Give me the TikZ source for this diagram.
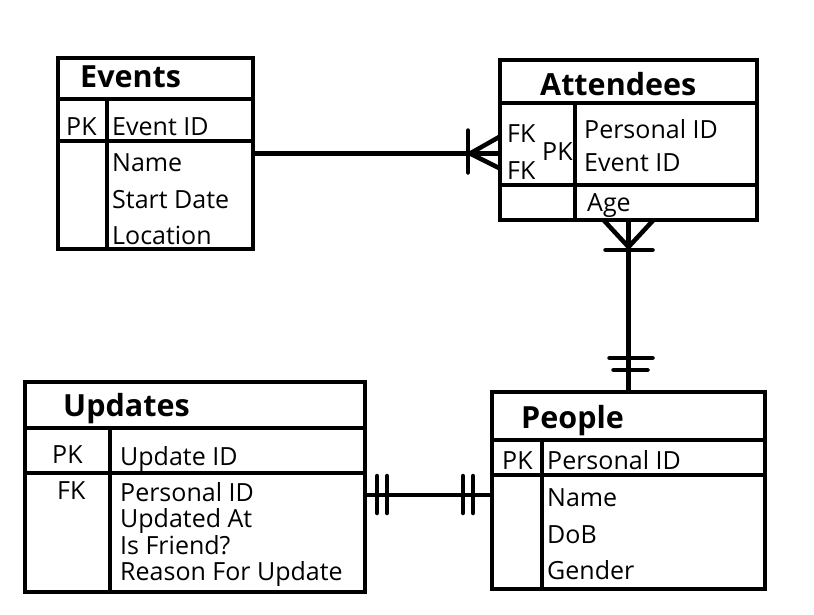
\documentclass[tikz,border=0pt]{standalone}
\usepackage{fontspec}
\setmainfont{Open Sans}
\usetikzlibrary{calc}
\begin{document}
\begin{tikzpicture}[x=1pt,y=-1pt,
  tbl/.style={draw, line width=4pt, inner sep=0pt, outer sep=0pt, rectangle},
  sepline/.style={line width=3.5pt},
  rel/.style={line width=4.5pt},
  barline/.style={line width=4.5pt, line cap=round},
  ttl/.style={anchor=base west, inner sep=0pt, font=\fontsize{30.5}{32}\selectfont\bfseries},
  fld/.style={anchor=base west, inner sep=0pt, font=\fontsize{25}{28}\selectfont}]
\useasboundingbox[fill=white] (0,0) rectangle (814,614);

% ---------- Events ----------
\node[tbl, minimum width=195pt, minimum height=191pt] (events) at (155.5,153.5) {};
\draw[sepline] (events.west |- 0,99) -- (events.east |- 0,99);
\draw[sepline] (events.west |- 0,141) -- (events.east |- 0,141);
\draw[sepline] (107,99) -- (107 ,249);
\node[ttl] (evT) at (80,87) {Events};
\node[fld] (evPK) at (66,135) {PK};
\node[fld] (evF1) at (112,135) {Event ID};
\node[fld] (evF2) at (112,171) {Name};
\node[fld] (evF3) at (112,208) {Start Date};
\node[fld] (evF4) at (112,244) {Location};

% ---------- Attendees ----------
\node[tbl, minimum width=257pt, minimum height=160pt] (att) at (628.5,140) {};
\draw[sepline] (att.west |- 0,103) -- (att.east |- 0,103);
\draw[sepline] (att.west |- 0,185) -- (att.east |- 0,185);
\draw[sepline] (575,103) -- (575,220);
\node[ttl] (atT) at (540,95) {Attendees};
\node[fld] (atFK1) at (507,142) {FK};
\node[fld] (atFK2) at (507,179) {FK};
\node[fld] (atPK) at (542,160) {PK};
\node[fld] (atF1) at (584,138) {Personal ID};
\node[fld] (atF2) at (584,171) {Event ID};
\node[fld] (atF3) at (587,211) {Age};

% ---------- People ----------
\node[tbl, minimum width=273pt, minimum height=197pt] (people) at (628.5,490.5) {};
\draw[sepline] (people.west |- 0,440) -- (people.east |- 0,440);
\draw[sepline] (people.west |- 0,475) -- (people.east |- 0,475);
\draw[sepline] (542,440) -- (542,589);
\node[ttl] (peT) at (521,428) {People};
\node[fld] (pePK) at (502,469) {PK};
\node[fld] (peF1) at (547,469) {Personal ID};
\node[fld] (peF2) at (547,506) {Name};
\node[fld] (peF3) at (547,543) {DoB};
\node[fld] (peF4) at (547,579) {Gender};

% ---------- Updates ----------
\node[tbl, minimum width=340pt, minimum height=210pt] (upd) at (195,487) {};
\draw[sepline] (upd.west |- 0,428) -- (upd.east |- 0,428);
\draw[sepline] (upd.west |- 0,473) -- (upd.east |- 0,473);
\draw[sepline] (110,428) -- (110,592);
\node[ttl] (upT) at (63,416) {Updates};
\node[fld] (upPK) at (52,463) {PK};
\node[fld] (upF1) at (120,465) {Update ID};
\node[fld] (upFK) at (57,499) {FK};
\node[fld] (upF2) at (120,501) {Personal ID};
\node[fld] (upF3) at (120,527) {Updated At};
\node[fld] (upF4) at (120,554) {Is Friend?};
\node[fld] (upF5) at (120,580) {Reason For Update};

% ---------- Events -- Attendees (one to many) ----------
\coordinate (aw) at (events.east -| att.west);
\draw[rel] (events.east) -- (aw);
\draw[rel] ($(aw)+(-30,0)$) -- ($(aw)+(0,-17)$);
\draw[rel] ($(aw)+(-30,0)$) -- ($(aw)+(0,15)$);
\draw[barline] ($(aw)+(-32,-23)$) -- ($(aw)+(-32,19)$);

% ---------- Attendees -- People ----------
\draw[rel] (att.south) -- (people.north);
\draw[rel] ($(att.south)+(-25,0)$) -- ($(att.south)+(0,27)$);
\draw[rel] ($(att.south)+(25,0)$) -- ($(att.south)+(0,27)$);
\draw[barline] ($(att.south)+(-23,30)$) -- ($(att.south)+(24,30)$);
\draw[barline] ($(people.north)+(-19,-34)$) -- ($(people.north)+(24,-34)$);
\draw[barline] ($(people.north)+(-15,-22)$) -- ($(people.north)+(19,-22)$);

% ---------- Updates -- People ----------
\coordinate (ue) at ($(upd.east)+(0,8)$);
\coordinate (pw) at (ue -| people.west);
\draw[rel] (ue) -- (pw);
\draw[barline] ($(ue)+(12,-19)$) -- ($(ue)+(12,18)$);
\draw[barline] ($(ue)+(22,-19)$) -- ($(ue)+(22,18)$);
\draw[barline] ($(pw)+(-29,-19)$) -- ($(pw)+(-29,18)$);
\draw[barline] ($(pw)+(-19,-19)$) -- ($(pw)+(-19,18)$);
\end{tikzpicture}
\end{document}
